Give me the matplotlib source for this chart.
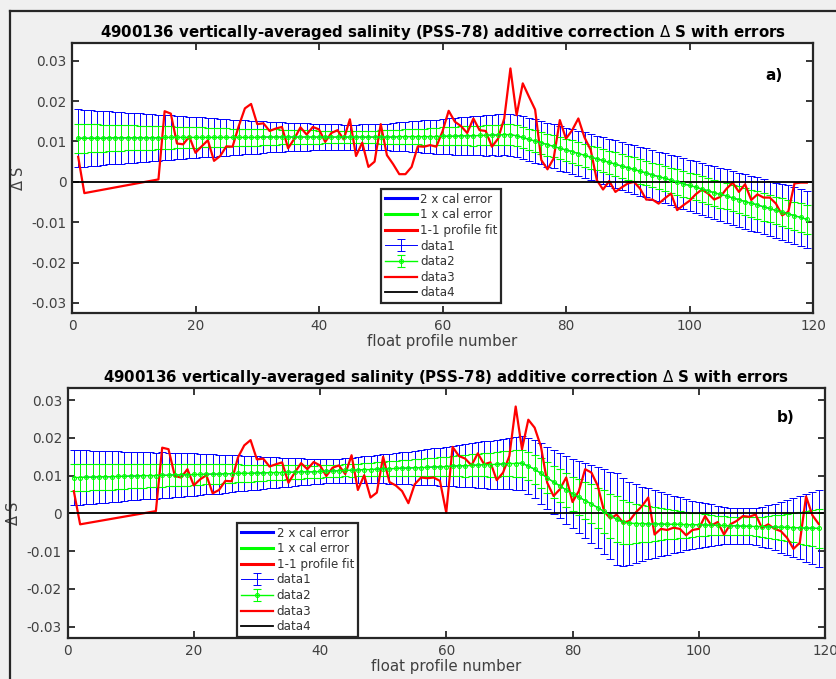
import matplotlib
matplotlib.use("Agg")
from matplotlib import pyplot as plt
from matplotlib.lines import Line2D

# float profile numbers with calibration estimates
profiles = list(range(1, 120))
# profiles that have a 1-1 fit (3-13 missing)
fit_profiles = [1, 2] + list(range(14, 120))

# ---- panel a) ----
mean_a = [0.0108, 0.0108, 0.0108, 0.0108, 0.0108, 0.0109, 0.0109, 0.0109, 0.0109, 0.0109,
          0.0109, 0.0109, 0.0109, 0.0109, 0.0110, 0.0110, 0.0110, 0.0110, 0.0110, 0.0110,
          0.0110, 0.0110, 0.0110, 0.0110, 0.0110, 0.0110, 0.0110, 0.0110, 0.0110, 0.0110,
          0.0111, 0.0111, 0.0111, 0.0111, 0.0111, 0.0111, 0.0111, 0.0111, 0.0111, 0.0111,
          0.0111, 0.0111, 0.0111, 0.0111, 0.0111, 0.0111, 0.0111, 0.0111, 0.0111, 0.0111,
          0.0111, 0.0111, 0.0112, 0.0112, 0.0112, 0.0112, 0.0112, 0.0112, 0.0112, 0.0113,
          0.0113, 0.0113, 0.0114, 0.0114, 0.0114, 0.0115, 0.0115, 0.0116, 0.0116, 0.0117,
          0.0117, 0.0114, 0.0110, 0.0105, 0.0101, 0.0097, 0.0092, 0.0088, 0.0083, 0.0079,
          0.0075, 0.0070, 0.0066, 0.0061, 0.0057, 0.0053, 0.0048, 0.0044, 0.0039, 0.0035,
          0.0031, 0.0026, 0.0022, 0.0017, 0.0013, 0.0009, 0.0004, 0.0000, -0.0005, -0.0009,
          -0.0013, -0.0018, -0.0022, -0.0027, -0.0031, -0.0035, -0.0040, -0.0044, -0.0049, -0.0053,
          -0.0057, -0.0062, -0.0066, -0.0071, -0.0075, -0.0079, -0.0084, -0.0088, -0.0093]
cal_err_a = [0.00360, 0.00354, 0.00348, 0.00342, 0.00336, 0.00330, 0.00325, 0.00319, 0.00313, 0.00308,
             0.00302, 0.00297, 0.00291, 0.00286, 0.00280, 0.00275, 0.00269, 0.00264, 0.00258, 0.00253,
             0.00248, 0.00242, 0.00237, 0.00232, 0.00226, 0.00221, 0.00216, 0.00211, 0.00206, 0.00201,
             0.00196, 0.00191, 0.00187, 0.00183, 0.00179, 0.00175, 0.00171, 0.00168, 0.00164, 0.00161,
             0.00159, 0.00157, 0.00156, 0.00155, 0.00155, 0.00155, 0.00156, 0.00157, 0.00159, 0.00162,
             0.00166, 0.00171, 0.00176, 0.00182, 0.00188, 0.00194, 0.00200, 0.00206, 0.00212, 0.00218,
             0.00223, 0.00228, 0.00233, 0.00237, 0.00241, 0.00245, 0.00249, 0.00252, 0.00255, 0.00258,
             0.00260, 0.00262, 0.00264, 0.00266, 0.00268, 0.00270, 0.00272, 0.00274, 0.00276, 0.00278,
             0.00280, 0.00282, 0.00284, 0.00286, 0.00288, 0.00290, 0.00292, 0.00294, 0.00296, 0.00298,
             0.00300, 0.00302, 0.00304, 0.00306, 0.00308, 0.00310, 0.00312, 0.00314, 0.00316, 0.00318,
             0.00320, 0.00322, 0.00324, 0.00326, 0.00328, 0.00330, 0.00332, 0.00334, 0.00336, 0.00338,
             0.00340, 0.00342, 0.00344, 0.00346, 0.00348, 0.00350, 0.00352, 0.00354, 0.00356]
fit_a = [0.0062, -0.0028,
         0.0006, 0.0175, 0.0169, 0.0095, 0.0093, 0.0112, 0.0072,
         0.0088, 0.0103, 0.0052, 0.0064, 0.0088, 0.0087, 0.0138, 0.0182, 0.0193, 0.0143,
         0.0145, 0.0126, 0.0132, 0.0136, 0.0083, 0.0107, 0.0135, 0.0117, 0.0136, 0.0130,
         0.0099, 0.0121, 0.0128, 0.0105, 0.0155, 0.0064, 0.0097, 0.0037, 0.0050, 0.0143,
         0.0066, 0.0044, 0.0019, 0.0019, 0.0037, 0.0088, 0.0087, 0.0091, 0.0087, 0.0125,
         0.0176, 0.0149, 0.0138, 0.0121, 0.0157, 0.0128, 0.0126, 0.0087, 0.0107, 0.0157,
         0.0281, 0.0165, 0.0244, 0.0211, 0.0179, 0.0054, 0.0031, 0.0058, 0.0153, 0.0107,
         0.0128, 0.0157, 0.0110, 0.0079, 0.0004, -0.0019, 0.0002, -0.0025, -0.0014, -0.0004,
         0.0000, -0.0017, -0.0044, -0.0044, -0.0054, -0.0041, -0.0029, -0.0070, -0.0058, -0.0047,
         -0.0031, -0.0019, -0.0029, -0.0044, -0.0037, -0.0017, -0.0002, -0.0025, -0.0006, -0.0045,
         -0.0031, -0.0039, -0.0039, -0.0054, -0.0083, -0.0074, -0.0004, -0.0002, -0.0002]

# ---- panel b) ----
mean_b = [0.0095, 0.0095, 0.0096, 0.0096, 0.0097, 0.0097, 0.0097, 0.0098, 0.0098, 0.0099,
          0.0099, 0.0100, 0.0100, 0.0100, 0.0101, 0.0101, 0.0102, 0.0102, 0.0102, 0.0103,
          0.0103, 0.0104, 0.0104, 0.0104, 0.0105, 0.0105, 0.0106, 0.0106, 0.0106, 0.0107,
          0.0107, 0.0108, 0.0108, 0.0108, 0.0109, 0.0109, 0.0110, 0.0110, 0.0110, 0.0111,
          0.0112, 0.0112, 0.0113, 0.0114, 0.0114, 0.0115, 0.0116, 0.0116, 0.0117, 0.0118,
          0.0118, 0.0119, 0.0120, 0.0120, 0.0121, 0.0121, 0.0122, 0.0123, 0.0123, 0.0124,
          0.0125, 0.0126, 0.0126, 0.0127, 0.0128, 0.0129, 0.0129, 0.0130, 0.0131, 0.0132,
          0.0132, 0.0133, 0.0125, 0.0117, 0.0106, 0.0094, 0.0083, 0.0073, 0.0062, 0.0052,
          0.0043, 0.0034, 0.0025, 0.0015, 0.0005, -0.0006, -0.0016, -0.0023, -0.0026, -0.0027,
          -0.0027, -0.0028, -0.0028, -0.0028, -0.0029, -0.0029, -0.0029, -0.0030, -0.0030, -0.0030,
          -0.0031, -0.0031, -0.0032, -0.0032, -0.0033, -0.0033, -0.0034, -0.0034, -0.0035, -0.0035,
          -0.0036, -0.0036, -0.0037, -0.0037, -0.0038, -0.0038, -0.0039, -0.0039, -0.0040]
cal_err_b = [0.00365, 0.00360, 0.00356, 0.00351, 0.00347, 0.00342, 0.00338, 0.00333, 0.00329, 0.00324,
             0.00320, 0.00315, 0.00311, 0.00306, 0.00302, 0.00297, 0.00293, 0.00288, 0.00284, 0.00279,
             0.00274, 0.00268, 0.00263, 0.00257, 0.00251, 0.00245, 0.00239, 0.00233, 0.00227, 0.00221,
             0.00215, 0.00209, 0.00203, 0.00197, 0.00191, 0.00185, 0.00178, 0.00172, 0.00167, 0.00163,
             0.00160, 0.00160, 0.00161, 0.00163, 0.00166, 0.00170, 0.00175, 0.00180, 0.00185, 0.00190,
             0.00196, 0.00203, 0.00210, 0.00217, 0.00224, 0.00231, 0.00238, 0.00245, 0.00252, 0.00260,
             0.00268, 0.00276, 0.00284, 0.00292, 0.00300, 0.00308, 0.00316, 0.00324, 0.00332, 0.00340,
             0.00348, 0.00355, 0.00370, 0.00385, 0.00400, 0.00410, 0.00420, 0.00432, 0.00445, 0.00455,
             0.00475, 0.00500, 0.00515, 0.00535, 0.00560, 0.00580, 0.00610, 0.00585, 0.00550, 0.00520,
             0.00490, 0.00470, 0.00445, 0.00420, 0.00400, 0.00380, 0.00360, 0.00340, 0.00320, 0.00305,
             0.00290, 0.00275, 0.00260, 0.00250, 0.00240, 0.00235, 0.00235, 0.00240, 0.00250, 0.00265,
             0.00285, 0.00310, 0.00335, 0.00360, 0.00390, 0.00420, 0.00450, 0.00480, 0.00510]
fit_b = [0.0059, -0.0029,
         0.0006, 0.0174, 0.0170, 0.0099, 0.0095, 0.0117, 0.0074,
         0.0090, 0.0101, 0.0053, 0.0062, 0.0086, 0.0085, 0.0148, 0.0180, 0.0194, 0.0143,
         0.0145, 0.0124, 0.0130, 0.0135, 0.0081, 0.0108, 0.0133, 0.0117, 0.0136, 0.0127,
         0.0099, 0.0121, 0.0127, 0.0104, 0.0154, 0.0062, 0.0101, 0.0042, 0.0055, 0.0150,
         0.0083, 0.0074, 0.0059, 0.0027, 0.0077, 0.0095, 0.0093, 0.0095, 0.0086, 0.0002,
         0.0176, 0.0152, 0.0145, 0.0127, 0.0159, 0.0130, 0.0135, 0.0088, 0.0108, 0.0152,
         0.0283, 0.0170, 0.0248, 0.0227, 0.0177, 0.0081, 0.0046, 0.0064, 0.0095, 0.0030,
         0.0059, 0.0117, 0.0108, 0.0073, 0.0006, -0.0014, -0.0003, -0.0025, -0.0020, 0.0002,
         0.0019, 0.0042, -0.0056, -0.0041, -0.0044, -0.0038, -0.0041, -0.0058, -0.0044, -0.0041,
         -0.0007, -0.0032, -0.0023, -0.0056, -0.0029, -0.0020, -0.0007, -0.0009, -0.0003, -0.0038,
         -0.0029, -0.0041, -0.0047, -0.0065, -0.0094, -0.0078, 0.0045, -0.0005, -0.0028]

title = "4900136 vertically-averaged salinity (PSS-78) additive correction $\\Delta$ S with errors"
yticks = [-0.03, -0.02, -0.01, 0, 0.01, 0.02, 0.03]
ytick_labels = ["-0.03", "-0.02", "-0.01", "0", "0.01", "0.02", "0.03"]
xticks = [0, 20, 40, 60, 80, 100, 120]

W, H = 836, 679
BG = "#f0f0f0"
GREEN = (0, 1, 0)
TXT = "#262626"

plt.rcParams['font.family'] = ['DejaVu Sans']
plt.rcParams['mathtext.fontset'] = 'dejavusans'

fig = plt.figure(figsize=(W / 100, H / 100), dpi=100, facecolor=BG)

# MATLAB style outer frame
fig.add_artist(Line2D([10 / W, 10 / W], [0, 1 - 11 / H], transform=fig.transFigure,
                      color=TXT, lw=1.6))
fig.add_artist(Line2D([10 / W, 1], [1 - 11 / H, 1 - 11 / H], transform=fig.transFigure,
                      color=TXT, lw=1.6))


def panel(rect, mean, err, fit, ylim, tag, leg_anchor):
    ax = fig.add_axes(rect)
    two_err = [2 * e for e in err]
    h1 = ax.errorbar(profiles, mean, yerr=two_err, color='b', lw=0.7, elinewidth=0.7,
                     capsize=2.6, capthick=0.7, label='data1')
    h2 = ax.errorbar(profiles, mean, yerr=err, color=GREEN, lw=1.0, elinewidth=0.7,
                     capsize=2.6, capthick=0.7, marker='o', ms=2.8, mfc='none',
                     mec=GREEN, mew=0.8, label='data2')
    h3, = ax.plot(fit_profiles, fit, color='r', lw=1.6, label='data3')
    h4, = ax.plot([0, 120], [0, 0], color='k', lw=1.3, label='data4')
    # legend-only lines
    d1, = ax.plot([], [], color='b', lw=2.2, label='2 x cal error')
    d2, = ax.plot([], [], color=GREEN, lw=2.2, label='1 x cal error')
    d3, = ax.plot([], [], color='r', lw=2.2, label='1-1 profile fit')

    ax.set_xlim(0, 120)
    ax.set_ylim(*ylim)
    ax.set_xticks(xticks)
    ax.set_yticks(yticks)
    ax.set_yticklabels(ytick_labels)
    ax.tick_params(direction='in', length=5, width=1.3, top=True, right=True,
                   labelsize=9.8, labelcolor='#404040', color=TXT, pad=4)
    for s in ax.spines.values():
        s.set_linewidth(1.6)
        s.set_color(TXT)
    ax.set_title(title, fontsize=10.8, fontweight='bold', pad=4)
    ax.set_xlabel("float profile number", fontsize=10.8, color='#404040', labelpad=1)
    ax.set_ylabel("$\\Delta$ S", fontsize=10.5, color='#404040', labelpad=4)
    ax.text(0.948, 0.88, tag, transform=ax.transAxes, fontsize=11, fontweight='bold',
            ha='center', va='center')

    leg = ax.legend([d1, d2, d3, h1, h2, h3, h4],
                    ['2 x cal error', '1 x cal error', '1-1 profile fit',
                     'data1', 'data2', 'data3', 'data4'],
                    loc='upper left', bbox_to_anchor=leg_anchor, borderaxespad=0,
                    fontsize=8.6, frameon=True, fancybox=False, framealpha=1,
                    handlelength=2.7, handletextpad=0.3, labelspacing=0.22,
                    borderpad=0.3)
    leg.get_frame().set_edgecolor(TXT)
    leg.get_frame().set_linewidth(1.6)
    for t in leg.get_texts():
        t.set_color('#333333')
    return ax


panel([72 / W, 1 - 313 / H, 741 / W, 270 / H], mean_a, cal_err_a, fit_a,
      (-0.0325, 0.0344), 'a)', (0.417, 0.459))
panel([67.5 / W, 1 - 638 / H, 757.5 / W, 250 / H], mean_b, cal_err_b, fit_b,
      (-0.033, 0.0332), 'b)', (0.224, 0.46))

fig.savefig("out.png", dpi=100, facecolor=BG)
